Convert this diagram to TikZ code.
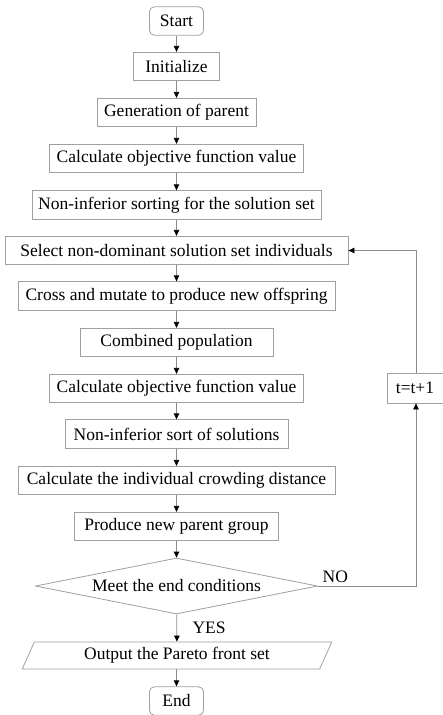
\documentclass[tikz,border=0pt]{standalone}
\usepackage{fontspec}
\setmainfont{Liberation Serif}
\usepackage{tikz}
\usetikzlibrary{arrows.meta,shapes.geometric}
\definecolor{boxgray}{HTML}{A0A0A0}
\definecolor{linegray}{HTML}{8C8C8C}

\begin{document}
\begin{tikzpicture}[
        x=1pt,y=-1pt,
        font=\fontsize{17.5}{20}\selectfont,
        stepbox/.style={draw=boxgray,inner sep=0pt,minimum height=28.5pt,minimum width=#1},
        terminal/.style={stepbox=#1,rounded corners=5pt},
        decision/.style={diamond,draw=boxgray,shape aspect=5,inner xsep=0pt,inner ysep=-3pt,
            minimum width=282pt,minimum height=56pt},
        io/.style={trapezium,trapezium stretches=true,trapezium left angle=64,trapezium right angle=116,
            draw=boxgray,inner sep=0pt,minimum width=310pt,minimum height=27pt},
        arr/.style={draw=linegray,-{Triangle[length=6pt,width=5.5pt,color=black]}},
        every path/.append style={line width=0.8pt}
    ]
        \useasboundingbox (0,0) rectangle (443,715);

        \node [terminal=54pt]  (start) at (176.5,21)    {Start};
        \node [stepbox=86pt]   (init)  at (176.5,66.5)  {Initialize};
        \node [stepbox=159pt]  (gen)   at (176.5,112.5) {Generation of parent};
        \node [stepbox=254pt]  (calc)  at (176.5,158.5) {Calculate objective function value};
        \node [stepbox=289pt]  (sort)  at (176.5,205)   {Non-inferior sorting for the solution set};
        \node [stepbox=343pt]  (sel)   at (176.5,250.5) {Select non-dominant solution set individuals};
        \node [stepbox=317pt]  (cross) at (176.5,296)   {Cross and mutate to produce new offspring};
        \node [stepbox=193pt]  (comb)  at (176.5,342.5) {Combined population};
        \node [stepbox=254pt]  (calcb) at (176.5,388.5) {Calculate objective function value};
        \node [stepbox=223pt]  (sortb) at (176.5,434)   {Non-inferior sort of solutions};
        \node [stepbox=317pt]  (crowd) at (176.5,480.5) {Calculate the individual crowding distance};
        \node [stepbox=204pt]  (prod)  at (176.5,526.5) {Produce new parent group};
        \node [decision]       (cond)  at (176.5,586)   {Meet the end conditions};
        \node [io]             (out)   at (177,655.5)   {Output the Pareto front set};
        \node [terminal=54pt]  (end)   at (176.5,701)   {End};
        \node [stepbox=56pt,minimum height=30pt] (iter) at (415,388) {t=t+1};

        \draw [arr] (start) -- (init);
        \draw [arr] (init)  -- (gen);
        \draw [arr] (gen)   -- (calc);
        \draw [arr] (calc)  -- (sort);
        \draw [arr] (sort)  -- (sel);
        \draw [arr] (sel)   -- (cross);
        \draw [arr] (cross) -- (comb);
        \draw [arr] (comb)  -- (calcb);
        \draw [arr] (calcb) -- (sortb);
        \draw [arr] (sortb) -- (crowd);
        \draw [arr] (crowd) -- (prod);
        \draw [arr] (prod)  -- (cond);
        \draw [arr] (cond)  -- node[right,xshift=12pt]{YES} (out);
        \draw [arr] (out.south -| end) -- (end);

        % loop back
        \draw [arr] (cond.east) -| node[pos=0,above right,xshift=1pt]{NO} ([xshift=1pt]iter.south);
        \draw [arr] ([xshift=1pt]iter.north) |- (sel.east);
    \end{tikzpicture}
\end{document}
